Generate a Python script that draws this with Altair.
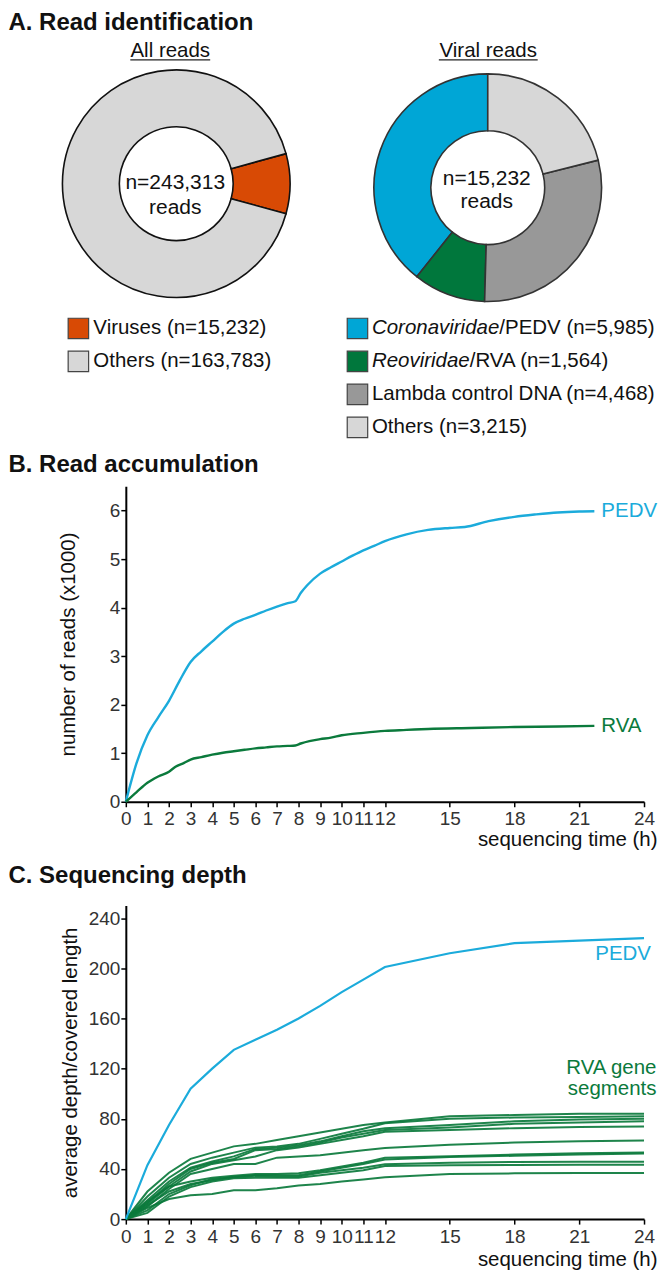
import math
import altair as alt
import pandas as pd

FONT = "Liberation Sans"

# ---------------- Panel A data ----------------
ALL_KEYS = ["Viruses", "Others"]
ALL_COUNTS = [15232, 163783]
ALL_TOTAL = ["n=243,313", "reads"]
VIRAL_ITALIC = ["Coronaviridae", "Reoviridae", "", ""]
VIRAL_PLAIN = ["/PEDV", "/RVA", "Lambda control DNA", "Others"]
VIRAL_COUNTS = [5985, 1564, 4468, 3215]
VIRAL_RING_ORDER = [3, 2, 1, 0]   # clockwise from 12 o'clock: Others, Lambda, Reo, Corona
VIRAL_TOTAL = ["n=15,232", "reads"]
ALL_COLORS = ["#D84A05", "#D7D7D7"]
VIRAL_COLORS = ["#00A6D6", "#00773C", "#989898", "#D7D7D7"]

# ---------------- Panel B data ----------------
B_PEDV_H = [0, 0.5, 1, 1.5, 2, 2.5, 3, 3.5, 4, 4.5, 5, 5.5, 6, 6.5, 7, 7.5, 7.85, 8.1, 8.4, 9,
            9.5, 10, 10.5, 11, 11.5, 12, 13, 14, 15, 15.7, 16.8, 18, 19, 20, 21, 21.7]
B_PEDV_V = [0, 0.8, 1.37, 1.74, 2.08, 2.5, 2.88, 3.1, 3.3, 3.5, 3.67, 3.77, 3.85, 3.94, 4.02, 4.09,
            4.13, 4.3, 4.46, 4.7, 4.83, 4.95, 5.07, 5.18, 5.27, 5.37, 5.51, 5.6, 5.64, 5.66, 5.78,
            5.87, 5.92, 5.96, 5.98, 5.985]
B_RVA_H = [0, 0.5, 1, 1.5, 2, 2.3, 2.7, 3, 3.5, 4, 4.5, 5, 5.5, 6, 6.5, 7, 7.5, 7.85, 8.1, 8.5,
           9, 9.5, 10, 11, 12, 13, 14, 16, 18, 20, 21.7]
B_RVA_V = [0, 0.2, 0.39, 0.52, 0.62, 0.72, 0.8, 0.87, 0.92, 0.97, 1.01, 1.04, 1.07, 1.1, 1.12,
           1.14, 1.15, 1.16, 1.2, 1.25, 1.29, 1.32, 1.37, 1.42, 1.46, 1.48, 1.5, 1.52, 1.54, 1.55,
           1.564]

# ---------------- Panel C data ----------------
C_HOURS = [0, 1, 2, 3, 4, 5, 6, 7, 8, 9, 10, 11, 12, 15, 18, 21, 24]
C_PEDV = [0, 43, 75, 104, 120, 135, 143, 151, 160, 170, 181, 191, 201, 212, 220, 222, 224]
C_RVA = [
    [0, 22, 37, 48, 53, 58, 60, 63, 66, 69, 72, 75, 77, 82, 83, 84, 84],
    [0, 18, 33, 44, 49, 53, 57, 58, 60, 64, 68, 72, 76.5, 80, 81, 81.5, 82],
    [0, 15, 30, 41, 46, 50, 56, 57, 59, 62, 66, 70, 72.5, 75, 78, 79.5, 80],
    [0, 13, 28, 40, 45, 48, 55, 56, 58, 61, 65, 68, 71, 73, 76, 77, 78],
    [0, 12, 26, 38, 44, 47, 50, 55, 57, 60, 63, 66, 69.7, 71, 72.5, 73.5, 73.8],
    [0, 10, 24, 36, 40, 44, 44, 49, 50, 51, 53, 55, 56.7, 59.3, 61, 62, 62.7],
    [0, 14, 26, 30, 33, 34.6, 36, 36, 36.5, 39, 42, 45, 48.9, 50.2, 51.5, 52.5, 53.1],
    [0, 11, 22, 28, 31, 33.8, 35, 35, 35, 38, 41, 44, 47.6, 49.5, 50.5, 51.5, 52.3],
    [0, 7, 20, 27, 32, 33.3, 34.5, 34, 34, 37, 39, 41, 43.7, 45, 45.5, 45.8, 45.8],
    [0, 5, 18, 25.5, 30, 32.5, 33, 33, 33, 35, 37, 39, 42.4, 43, 43.2, 43.3, 43.3],
    [0, 9, 16, 19, 20, 23, 23, 24.7, 26.8, 28, 30, 31.5, 33.3, 35.9, 36.5, 36.8, 36.8],
]
X_TICKS = [0, 1, 2, 3, 4, 5, 6, 7, 8, 9, 10, 11, 12, 15, 18, 21, 24]
B_Y_TICKS = [0, 1, 2, 3, 4, 5, 6]
C_Y_TICKS = [0, 40, 80, 120, 160, 200, 240]
C_RVA_LABEL_V = 118     # value level of the "RVA gene" label line
C_PEDV_LABEL_V = 211    # value level of the PEDV label

CYAN = "#1BABDB"
GREEN = "#0B7A3C"
TXT = "#111111"

# Arial / Liberation Sans advance widths (em) for label layout
EM = {"C": .722, "o": .556, "r": .333, "n": .556, "a": .556, "v": .5, "i": .222, "d": .556,
      "e": .556, "R": .722}


def text_width(s, size):
    return sum(EM.get(ch, .556) for ch in s) * size


# All panels share the same plot-area left edge; panel A content is placed
# relative to that edge (OX = distance from page left margin to the plot edge).
OX = 117.5

# ================= Panel A =================
W_A, H_A = 650 - OX - 2, 420
color_domain = ["all:" + k for k in ALL_KEYS] + ["viral:" + k for k in VIRAL_PLAIN]
color_range = ALL_COLORS + VIRAL_COLORS
COLOR = alt.Scale(domain=color_domain, range=color_range)

dfL = pd.DataFrame({"key": ["all:" + k for k in ALL_KEYS], "n": ALL_COUNTS, "ord": [0, 1]})
dfR = pd.DataFrame({"key": ["viral:" + k for k in VIRAL_PLAIN], "n": VIRAL_COUNTS,
                    "ord": VIRAL_RING_ORDER})
rotL = math.pi / 2 - math.pi * ALL_COUNTS[0] / sum(ALL_COUNTS)


def ring(df, rot, cx, cy, stroke):
    return (
        alt.Chart(df)
        .transform_joinaggregate(total="sum(n)")
        .transform_window(cum="sum(n)", sort=[alt.SortField("ord")], frame=[None, 0])
        .transform_calculate(
            a1=f"{rot} + 2*PI*(datum.cum - datum.n)/datum.total",
            a2=f"{rot} + 2*PI*datum.cum/datum.total",
        )
        .mark_arc(innerRadius=57, outerRadius=114, stroke=stroke, strokeWidth=1.6)
        .encode(
            theta=alt.Theta("a1:Q", scale=None, stack=None),
            theta2="a2:Q",
            fill=alt.Fill("key:N", scale=COLOR, legend=None),
            x=alt.value(cx - OX),
            y=alt.value(cy),
        )
    )


def one_text(txt, x, y, size, **kw):
    return alt.Chart(pd.DataFrame({"t": [0]})).mark_text(
        text=txt, fontSize=size, font=FONT, **kw
    ).encode(x=alt.value(x), y=alt.value(y))


def underline(x1, x2, y):
    return alt.Chart(pd.DataFrame({"t": [0]})).mark_rule(color="#222", strokeWidth=1.3).encode(
        x=alt.value(x1 - OX), x2=alt.value(x2 - OX), y=alt.value(y)
    )


ROW_Y = alt.Y("row:Q", scale=alt.Scale(domain=[0, 3], range=[318, 417]), axis=None)

legL = pd.DataFrame({
    "key": ["all:" + k for k in ALL_KEYS],
    "row": [0, 1],
    "label": [f"{k} (n={c:,})" for k, c in zip(ALL_KEYS, ALL_COUNTS)],
})
legR = pd.DataFrame({
    "key": ["viral:" + k for k in VIRAL_PLAIN],
    "row": [0, 1, 2, 3],
    "ital": VIRAL_ITALIC,
    "plain": [f"{p} (n={c:,})" for p, c in zip(VIRAL_PLAIN, VIRAL_COUNTS)],
})

LEG_FS_L, LEG_FS_R = 20.5, 20.5
sq = dict(shape="square", size=420, stroke="#444", strokeWidth=1.2, opacity=1)

layers_A = [
    one_text("A. Read identification", -OX, 0, 24, fontWeight="bold", align="left",
             baseline="top", color=TXT),
    one_text("All reads", 162 - OX, 40, 20.5, align="center", baseline="middle", color=TXT),
    underline(122, 202, 49),
    one_text("Viral reads", 480.5 - OX, 40, 20.5, align="center", baseline="middle", color=TXT),
    underline(431, 530, 49),
    ring(dfL, rotL, 168, 173, "#111"),
    ring(dfR, 0, 480, 177, "#333"),
    one_text(ALL_TOTAL, 167 - OX, 172, 21, align="center", baseline="middle",
             lineHeight=25, color=TXT),
    one_text(VIRAL_TOTAL, 479 - OX, 168, 21, align="center", baseline="middle",
             lineHeight=23, color=TXT),
    alt.Chart(legL).mark_point(filled=True, **sq).encode(
        x=alt.value(70 - OX), y=ROW_Y, fill=alt.Fill("key:N", scale=COLOR, legend=None)),
    alt.Chart(legL).mark_text(align="left", baseline="middle", fontSize=LEG_FS_L, font=FONT,
                              color=TXT).encode(x=alt.value(85 - OX), y=ROW_Y, text="label:N"),
    alt.Chart(legR).mark_point(filled=True, **sq).encode(
        x=alt.value(349.5 - OX), y=ROW_Y, fill=alt.Fill("key:N", scale=COLOR, legend=None)),
    alt.Chart(legR).mark_text(align="left", baseline="middle", fontSize=LEG_FS_R, font=FONT,
                              fontStyle="italic", color=TXT).encode(
        x=alt.value(364 - OX), y=ROW_Y, text="ital:N"),
]
for i, it in enumerate(VIRAL_ITALIC):
    layers_A.append(
        alt.Chart(legR).transform_filter(f"datum.row == {i}").mark_text(
            align="left", baseline="middle", fontSize=LEG_FS_R, font=FONT, color=TXT
        ).encode(x=alt.value(364 - OX + text_width(it, LEG_FS_R)), y=ROW_Y, text="plain:N")
    )

panelA = alt.layer(*layers_A).properties(width=W_A, height=H_A)


# ================= shared axis styling =================
def x_axis(width, ty):
    return alt.Axis(
        values=X_TICKS, title="sequencing time (h)", grid=False,
        domainColor="#000", domainWidth=2, tickColor="#000", tickWidth=1.5, tickSize=5,
        labelFont=FONT, labelFontSize=19, labelColor="#333", labelPadding=3,
        labelOverlap=False, labelFlush=False,
        titleFont=FONT, titleFontSize=20.5, titleFontWeight="normal", titleColor=TXT,
        titleAlign="right", titleBaseline="middle", titleX=width + 13, titleY=ty,
    )


def y_axis(values, title, height, tx):
    return alt.Axis(
        values=values, title=title, grid=False,
        domainColor="#000", domainWidth=2, tickColor="#000", tickWidth=1.5, tickSize=5,
        labelFont=FONT, labelFontSize=19, labelColor="#333", labelPadding=1,
        labelOverlap=False, labelFlush=False,
        titleFont=FONT, titleFontSize=20.5, titleFontWeight="normal", titleColor=TXT,
        titleAlign="center", titleBaseline="middle", titleX=tx, titleY=height / 2,
    )


SERIES_COLOR = alt.Scale(domain=["PEDV", "RVA"], range=[CYAN, GREEN])

# ================= Panel B =================
W_B, H_B = 519, 316
dfB = pd.concat([
    pd.DataFrame({"h": B_PEDV_H, "v": B_PEDV_V, "s": "PEDV"}),
    pd.DataFrame({"h": B_RVA_H, "v": B_RVA_V, "s": "RVA"}),
])
labB = pd.DataFrame({"h": [B_PEDV_H[-1], B_RVA_H[-1]], "v": [B_PEDV_V[-1], B_RVA_V[-1]],
                     "s": ["PEDV", "RVA"]})
xB = alt.X("h:Q", scale=alt.Scale(domain=[0, 24], nice=False), axis=x_axis(W_B, 38))
yB = alt.Y("v:Q", scale=alt.Scale(domain=[0, 6.5], nice=False),
           axis=y_axis(B_Y_TICKS, "number of reads (x1000)", H_B, -57))

panelB = alt.layer(
    alt.Chart(dfB).mark_line(strokeWidth=2.4, interpolate="monotone").encode(
        x=xB, y=yB, color=alt.Color("s:N", scale=SERIES_COLOR, legend=None)),
    alt.Chart(labB).mark_text(align="left", baseline="middle", dx=7, fontSize=20.5,
                              font=FONT).encode(
        x=xB, y=yB, text="s:N", color=alt.Color("s:N", scale=SERIES_COLOR, legend=None)),
    one_text("B. Read accumulation", -OX, -33, 24, fontWeight="bold", align="left",
             baseline="top", color=TXT),
).properties(width=W_B, height=H_B)

# ================= Panel C =================
W_C, H_C = 519, 314
C_MAX = 250
rows = []
for h, v in zip(C_HOURS, C_PEDV):
    rows.append({"h": h, "v": v, "s": "PEDV", "g": "PEDV"})
for k, ser in enumerate(C_RVA):
    for h, v in zip(C_HOURS, ser):
        rows.append({"h": h, "v": v, "s": f"RVA{k + 1}", "g": "RVA"})
dfC = pd.DataFrame(rows)
xC = alt.X("h:Q", scale=alt.Scale(domain=[0, 24], nice=False), axis=x_axis(W_C, 40))
yC = alt.Y("v:Q", scale=alt.Scale(domain=[0, C_MAX], nice=False),
           axis=y_axis(C_Y_TICKS, "average depth/covered length", H_C, -55))
rva_top = max(s[-1] for s in C_RVA)
labC_pedv = pd.DataFrame({"h": [C_HOURS[-1]], "v": [C_PEDV[-1]], "g": ["PEDV"]})
labC_rva = pd.DataFrame({"h": [C_HOURS[-1]], "v": [rva_top], "g": ["RVA"]})
px_per_unit = H_C / C_MAX

panelC = alt.layer(
    alt.Chart(dfC).transform_filter("datum.g == 'RVA'").mark_line(
        strokeWidth=2, opacity=0.92).encode(
        x=xC, y=yC, detail="s:N", color=alt.Color("g:N", scale=SERIES_COLOR, legend=None)),
    alt.Chart(dfC).transform_filter("datum.g == 'PEDV'").mark_line(strokeWidth=2.2).encode(
        x=xC, y=yC, color=alt.Color("g:N", scale=SERIES_COLOR, legend=None)),
    alt.Chart(labC_pedv).mark_text(text="PEDV", align="right", baseline="middle", dx=7,
                                   dy=(C_PEDV[-1] - C_PEDV_LABEL_V) * px_per_unit,
                                   fontSize=20.5, font=FONT).encode(
        x=xC, y=yC, color=alt.Color("g:N", scale=SERIES_COLOR, legend=None)),
    alt.Chart(labC_rva).mark_text(text=["RVA gene", "segments"], align="right",
                                  baseline="middle", dx=12.5,
                                  dy=-(C_RVA_LABEL_V - rva_top) * px_per_unit - 3,
                                  lineHeight=21, fontSize=20.5, font=FONT).encode(
        x=xC, y=yC, color=alt.Color("g:N", scale=SERIES_COLOR, legend=None)),
    one_text("C. Sequencing depth", -OX, -42, 24, fontWeight="bold", align="left",
             baseline="top", color=TXT),
).properties(width=W_C, height=H_C)

chart = (
    alt.vconcat(panelA, panelB, panelC, spacing=13)
    .properties(padding={"top": 2, "left": 0, "right": 0, "bottom": 0})
    .configure(font=FONT)
    .configure_axis(labelOverlap=False, labelFlush=False)
    .configure_view(stroke=None)
)

chart.save("out.html", embed_options={"renderer": "svg", "actions": False})
